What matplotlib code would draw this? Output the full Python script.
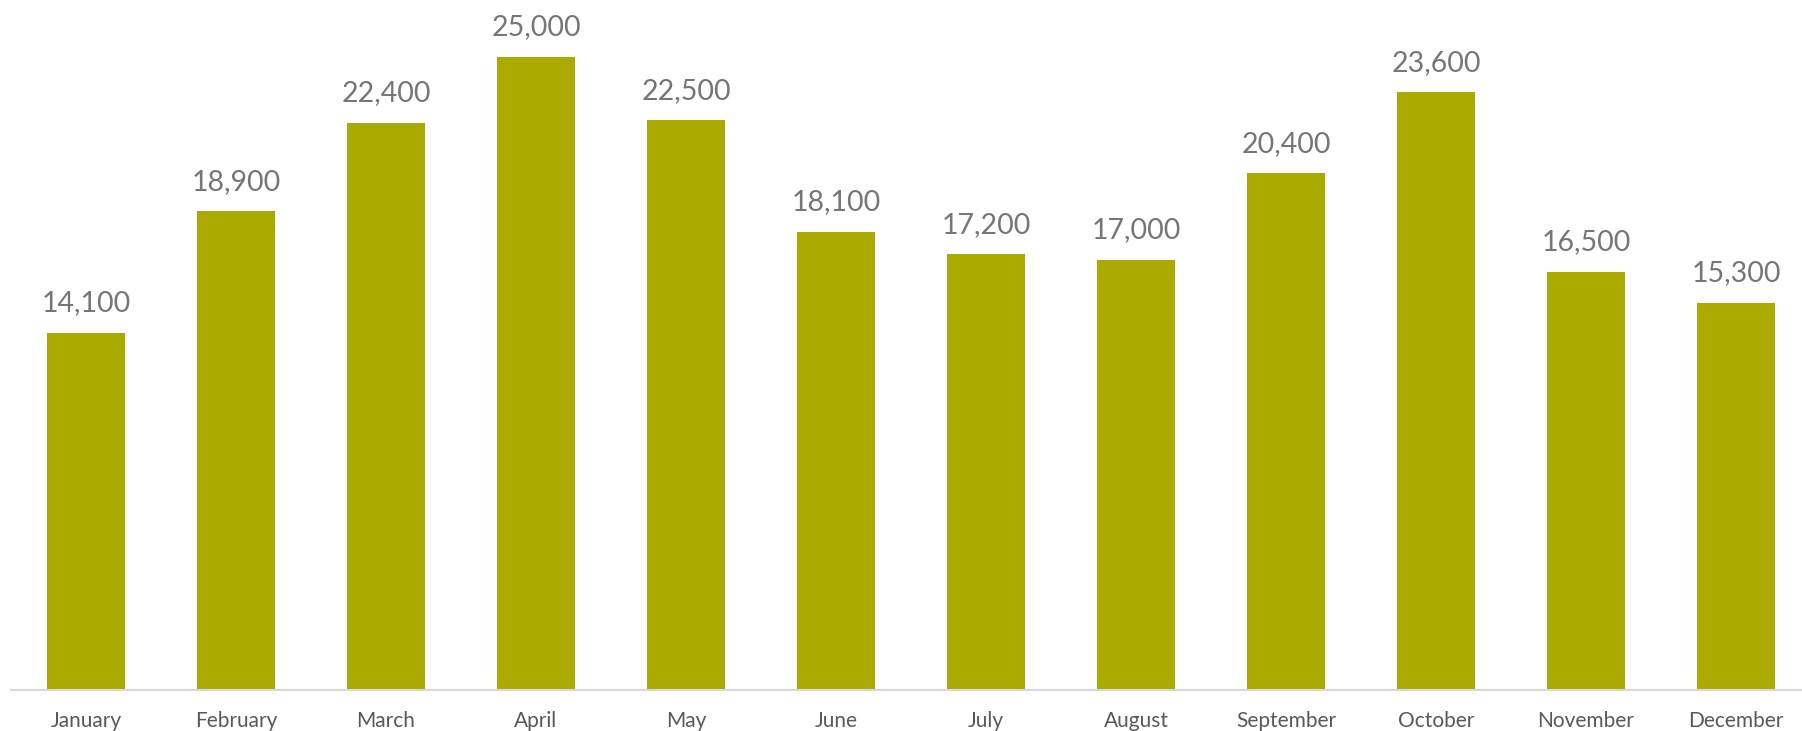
import matplotlib
matplotlib.use("Agg")
from matplotlib import pyplot as plt

months = ["January", "February", "March", "April", "May", "June",
          "July", "August", "September", "October", "November", "December"]
values = [14100, 18900, 22400, 25000, 22500, 18100,
          17200, 17000, 20400, 23600, 16500, 15300]

plt.rcParams["font.family"] = ["Lato", "DejaVu Sans"]

fig = plt.figure(figsize=(18.02, 7.31), dpi=100)
ax = fig.add_axes([11 / 1802, 41 / 731, 1 - 11 / 1802, 1 - 41 / 731])

x = range(len(months))
bars = ax.bar(x, values, width=0.515, color="#ABAA00")
for b, v in zip(bars, values):
  ax.annotate(f"{v:,}", (b.get_x() + b.get_width() / 2, v),
              xytext=(0, 12), textcoords="offset points",
              ha="center", va="bottom", fontsize=20.5, color="#767676")

ax.set_xlim(-0.5, 11.44)
ax.set_ylim(0, 27250)
ax.set_xticks(list(x))
ax.set_xticklabels(months, fontsize=15, color="#595959")
ax.tick_params(axis="x", length=0, pad=15)
ax.set_yticks([])
for s in ["top", "right", "left"]:
  ax.spines[s].set_visible(False)
ax.spines["bottom"].set_color("#D9D9D9")
ax.spines["bottom"].set_linewidth(1.5)

fig.savefig("out.png", dpi=100)
